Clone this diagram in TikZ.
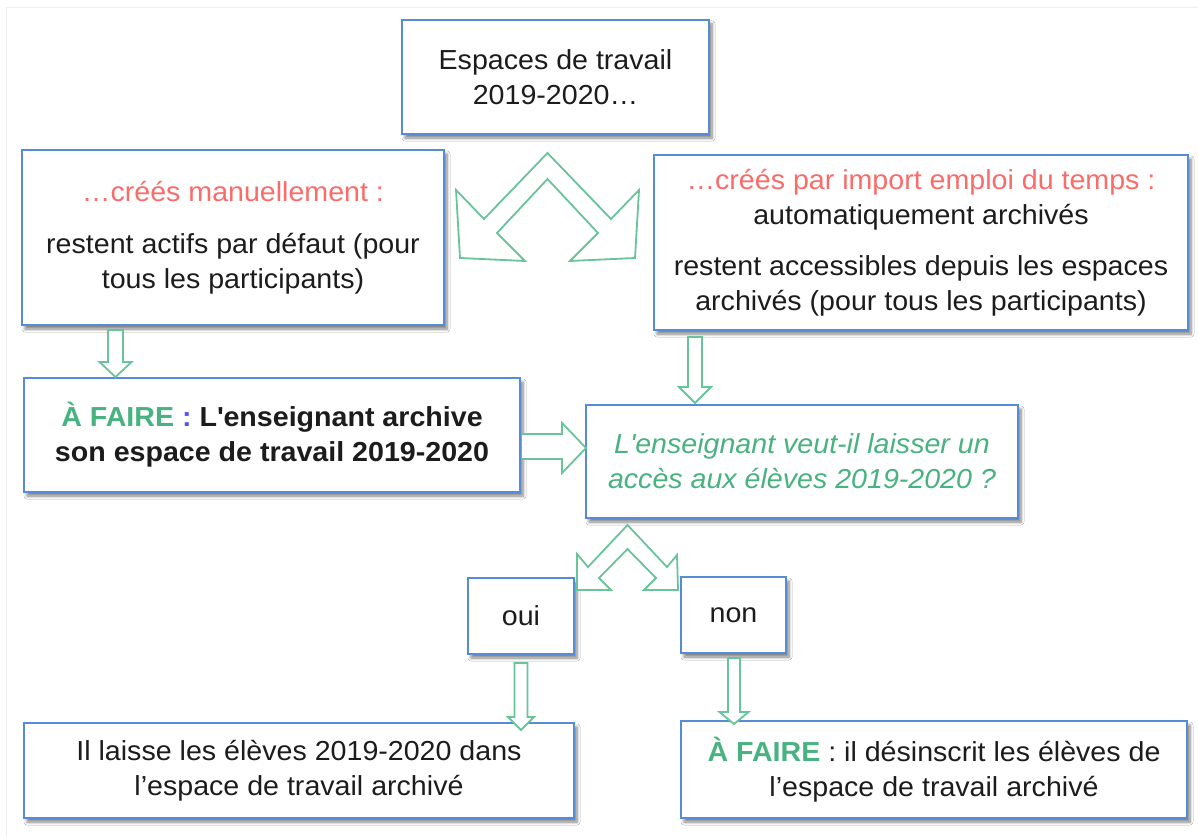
\documentclass[tikz,border=0pt]{standalone}
\usepackage{fontspec}
\setmainfont{Liberation Sans}[FakeStretch=1.04]
\usetikzlibrary{shadows.blur}

\definecolor{boxblue}{RGB}{86,140,214}
\definecolor{arrowgreen}{RGB}{104,196,154}
\definecolor{todogreen}{RGB}{72,178,128}
\definecolor{notered}{RGB}{250,108,106}
\definecolor{colonblue}{RGB}{84,84,236}
\definecolor{ink}{RGB}{28,28,28}
\definecolor{pageedge}{RGB}{238,238,238}

\tikzset{
  card/.style={draw=boxblue, line width=1.8pt, fill=white, inner sep=0pt,
    align=center, text=ink, font=\fontsize{27.5}{35}\selectfont,
    blur shadow={shadow xshift=3pt, shadow yshift=-4pt, shadow opacity=50,
      shadow blur steps=6, shadow blur radius=3pt}},
  flow/.style={draw=arrowgreen, line width=1.8pt, fill=white, line join=miter},
}

% hollow block arrow pointing down:
% #1 centre x, #2 shaft top, #3 head base, #4 tip y, #5 shaft half width, #6 head half width
\newcommand\blockdown[6]{%
  \draw[flow] ({#1-#5},#2) -- ({#1+#5},#2) -- ({#1+#5},#3) -- ({#1+#6},#3)
    -- (#1,#4) -- ({#1-#6},#3) -- ({#1-#5},#3) -- cycle;}

\begin{document}
\begin{tikzpicture}[x=1pt, y=-1pt]
  \useasboundingbox[fill=white] (0,0) rectangle (1198,837);
  \draw[pageedge, line width=0.8pt] (6,837) -- (6,7) -- (1198,7);

  % boxes
  \node[card, minimum width=307, minimum height=114] (top) at (555.5,77)
    {Espaces de travail\\2019-2020…};
  \node[card, minimum width=422, minimum height=175] (manual) at (233,237.5)
    {{\color{notered}…créés manuellement :}\\[17pt]
     restent actifs par défaut (pour\\tous les participants)};
  \node[card, minimum width=534, minimum height=175] (import) at (921,242.5)
    {{\color{notered}…créés par import emploi du temps :}\\
     automatiquement archivés\\[16pt]
     restent accessibles depuis les espaces\\
     archivés (pour tous les participants)};
  \node[card, minimum width=496, minimum height=114, font=\fontsize{27.5}{35}\selectfont\bfseries]
    (todo) at (272,435)
    {{\color{todogreen}À FAIRE} {\color{colonblue}:} L\textquotesingle enseignant archive\\
     son espace de travail 2019-2020};
  \node[card, minimum width=432, minimum height=113, text=todogreen,
    font=\fontsize{27.5}{35}\selectfont\itshape] (question) at (802,461.5)
    {L\textquotesingle enseignant veut-il laisser un\\accès aux élèves 2019-2020 ?};
  \node[card, minimum width=106, minimum height=76] (oui) at (521,616) {oui};
  \node[card, minimum width=105, minimum height=76] (non) at (733.5,615) {non};
  \node[card, minimum width=550, minimum height=95] (keep) at (299,770.5)
    {Il laisse les élèves 2019-2020 dans\\l’espace de travail archivé};
  \node[card, minimum width=506, minimum height=97] (drop) at (934,769.5)
    {{\bfseries\color{todogreen}À FAIRE} : il désinscrit les élèves de\\
     l’espace de travail archivé};

  % split arrow below the first box
  \draw[flow] (547.5,153) -- (484,219) -- (456,190) -- (460,258) -- (525,261)
    -- (497,233) -- (547.5,179) -- (598,233) -- (570,261) -- (635,258)
    -- (639,190) -- (611,219) -- cycle;

  % split arrow below the question
  \draw[flow] (627.5,525) -- (588,567) -- (577,554) -- (577,590) -- (611,590)
    -- (599,578) -- (627.5,549) -- (656,578) -- (644,590) -- (678,590)
    -- (677,555) -- (667,567) -- cycle;

  % straight block arrows
  \blockdown{115.5}{330}{362}{377}{7.5}{16}
  \blockdown{695}{337}{387}{403}{7}{16}
  \blockdown{521}{663}{717}{730}{6.5}{13}
  \blockdown{734}{658}{712}{724}{6}{14.5}
  \draw[flow] (522,434) -- (562,434) -- (562,423) -- (586,448) -- (562,473)
    -- (562,459) -- (522,459);
\end{tikzpicture}
\end{document}
